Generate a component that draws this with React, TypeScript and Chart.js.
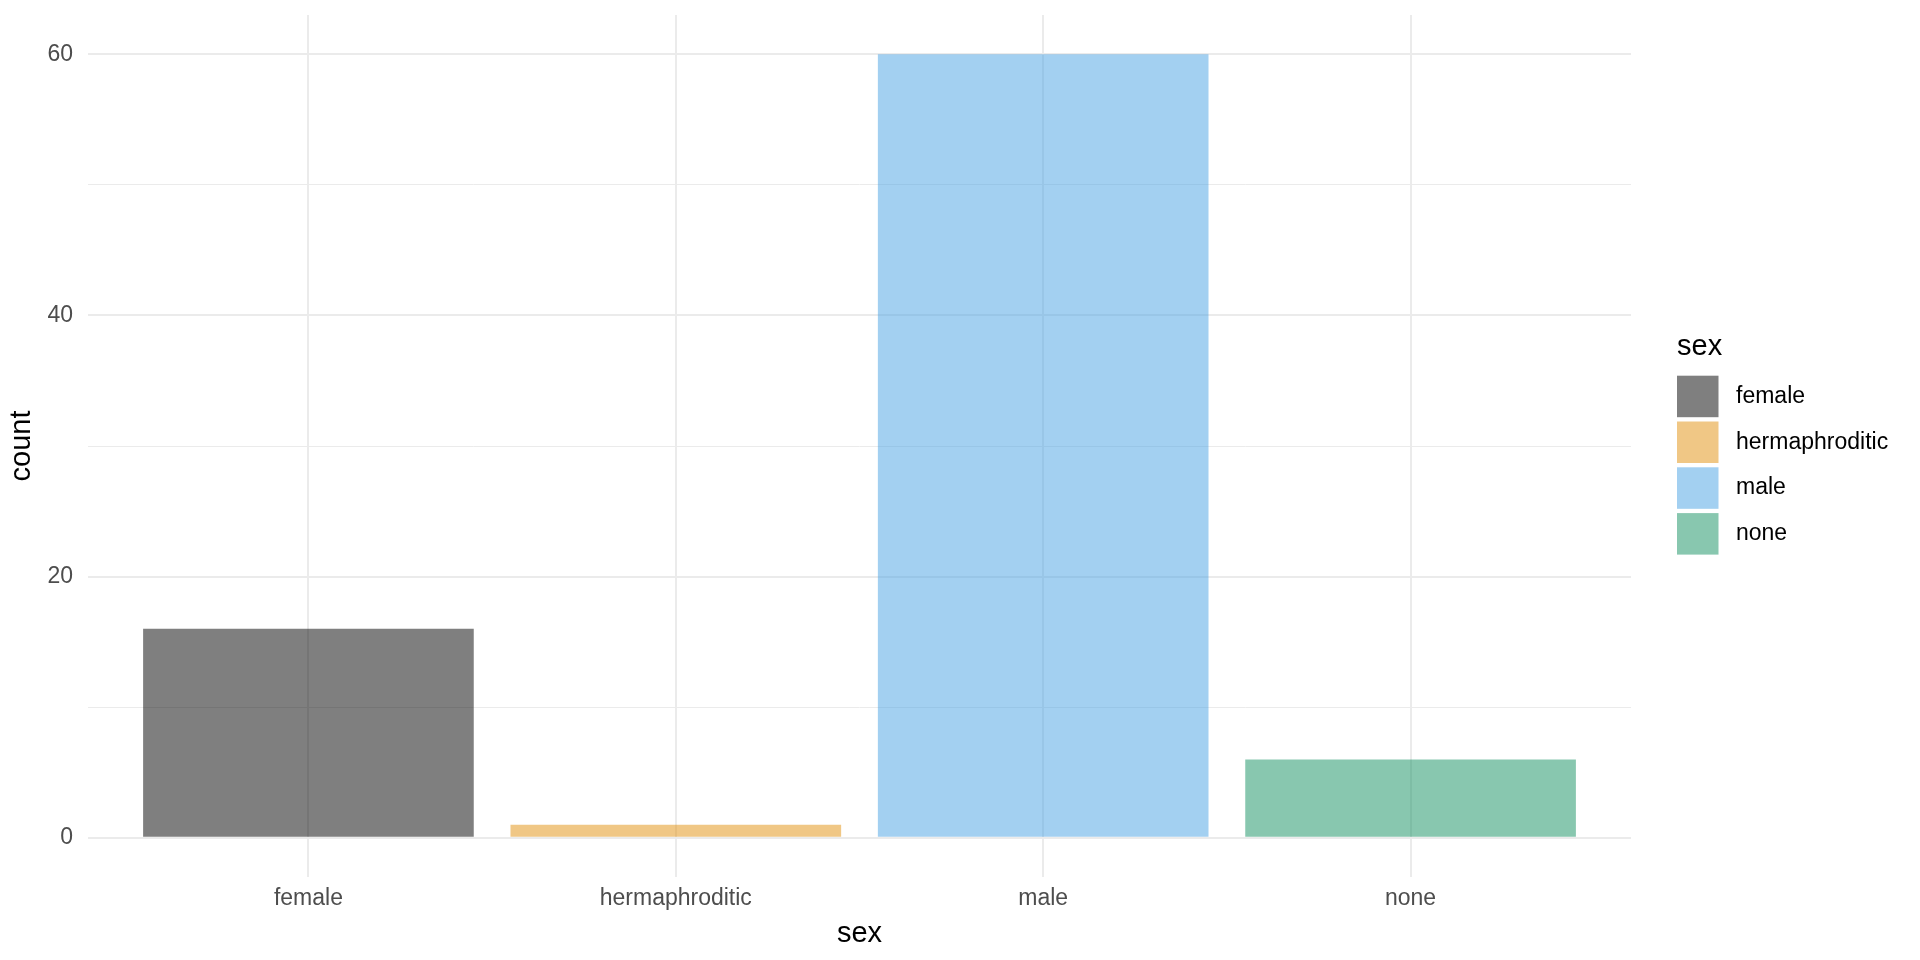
import React, { useEffect, useRef } from "react";
import { Chart, registerables } from "chart.js";

Chart.register(...registerables);

const categories = ["female", "hermaphroditic", "male", "none"];
const counts = [16, 1, 60, 6];
const fillColors = [
  "rgba(0,0,0,0.5)",
  "rgba(225,143,11,0.5)",
  "rgba(71,161,227,0.5)",
  "rgba(17,143,95,0.5)",
];
const yMajorTicks = [0, 20, 40, 60];
const yMinorTicks = [10, 30, 50];
const xTitle = "sex";
const yTitle = "count";
const legendTitle = "sex";

const FONT = "'Liberation Sans', Arial, Helvetica, sans-serif";

const legendPlugin = {
  id: "ggLegend",
  afterDraw(chart: any) {
    const ctx = chart.ctx;
    ctx.save();
    ctx.textBaseline = "middle";
    ctx.textAlign = "left";
    ctx.fillStyle = "#000000";
    ctx.font = `29px ${FONT}`;
    ctx.fillText(legendTitle, 1677, 347);
    categories.forEach((c, i) => {
      const top = 375.7 + i * 45.8;
      ctx.fillStyle = "#ffffff";
      ctx.fillRect(1677, top, 41.5, 41.5);
      ctx.fillStyle = fillColors[i];
      ctx.fillRect(1677, top, 41.5, 41.5);
      ctx.fillStyle = "#000000";
      ctx.font = `23px ${FONT}`;
      ctx.fillText(c, 1736, top + 20.75);
    });
    ctx.restore();
  },
};

export default function App() {
  const canvasRef = useRef<HTMLCanvasElement | null>(null);

  useEffect(() => {
    const canvas = canvasRef.current;
    if (!canvas) return;
    const allY = [...yMajorTicks, ...yMinorTicks].sort((a, b) => a - b);
    const chart = new Chart(canvas, {
      type: "bar",
      data: {
        datasets: [
          {
            label: xTitle,
            data: counts.map((v, i) => ({ x: i, y: v })),
            backgroundColor: fillColors,
            borderWidth: 0,
            barPercentage: 0.9,
            categoryPercentage: 1.0,
          },
        ],
      },
      options: {
        animation: false,
        responsive: false,
        maintainAspectRatio: false,
        layout: { padding: { left: 0, top: 15, right: 289, bottom: 0 } },
        plugins: {
          legend: { display: false },
          tooltip: { enabled: false },
        },
        scales: {
          x: {
            type: "linear",
            offset: false,
            min: -0.6,
            max: categories.length - 1 + 0.6,
            afterBuildTicks: (scale: any) => {
              scale.ticks = categories.map((_, i) => ({ value: i }));
            },
            afterFit: (scale: any) => {
              scale.height = 83;
              scale.paddingLeft = 0;
              scale.paddingRight = 0;
              scale.paddingTop = 0;
              scale.paddingBottom = 0;
            },
            border: { display: false },
            grid: { color: "#EBEBEB", lineWidth: 2, drawTicks: false, offset: false },
            ticks: {
              padding: 8,
              color: "#4D4D4D",
              font: { family: FONT, size: 23 },
              callback: (v: any) => categories[Math.round(Number(v))] ?? "",
              maxRotation: 0,
              autoSkip: false,
            },
            title: {
              display: true,
              text: xTitle,
              color: "#000000",
              font: { family: FONT, size: 29 },
              padding: { top: 0, bottom: 9 },
            },
          },
          y: {
            type: "linear",
            min: -3,
            max: 63,
            afterBuildTicks: (scale: any) => {
              scale.ticks = allY.map((v) => ({ value: v }));
            },
            afterFit: (scale: any) => {
              scale.width = 88;
              scale.paddingLeft = 0;
              scale.paddingRight = 0;
              scale.paddingTop = 0;
              scale.paddingBottom = 0;
            },
            border: { display: false },
            grid: {
              color: "#EBEBEB",
              lineWidth: (ctx: any) =>
                ctx.tick && yMajorTicks.includes(ctx.tick.value) ? 2 : 1,
              drawTicks: false,
            },
            ticks: {
              padding: 15,
              color: "#4D4D4D",
              font: { family: FONT, size: 23 },
              callback: (v: any) =>
                yMajorTicks.includes(Number(v)) ? String(v) : "",
              autoSkip: false,
            },
            title: {
              display: true,
              text: yTitle,
              color: "#000000",
              font: { family: FONT, size: 29 },
              padding: { top: 5, bottom: 0 },
            },
          },
        },
      },
      plugins: [legendPlugin],
    });
    return () => chart.destroy();
  }, []);

  return (
    <div
      style={{
        position: "fixed",
        left: 0,
        top: 0,
        width: 1920,
        height: 960,
        background: "#ffffff",
      }}
    >
      <canvas ref={canvasRef} width={1920} height={960} />
    </div>
  );
}
